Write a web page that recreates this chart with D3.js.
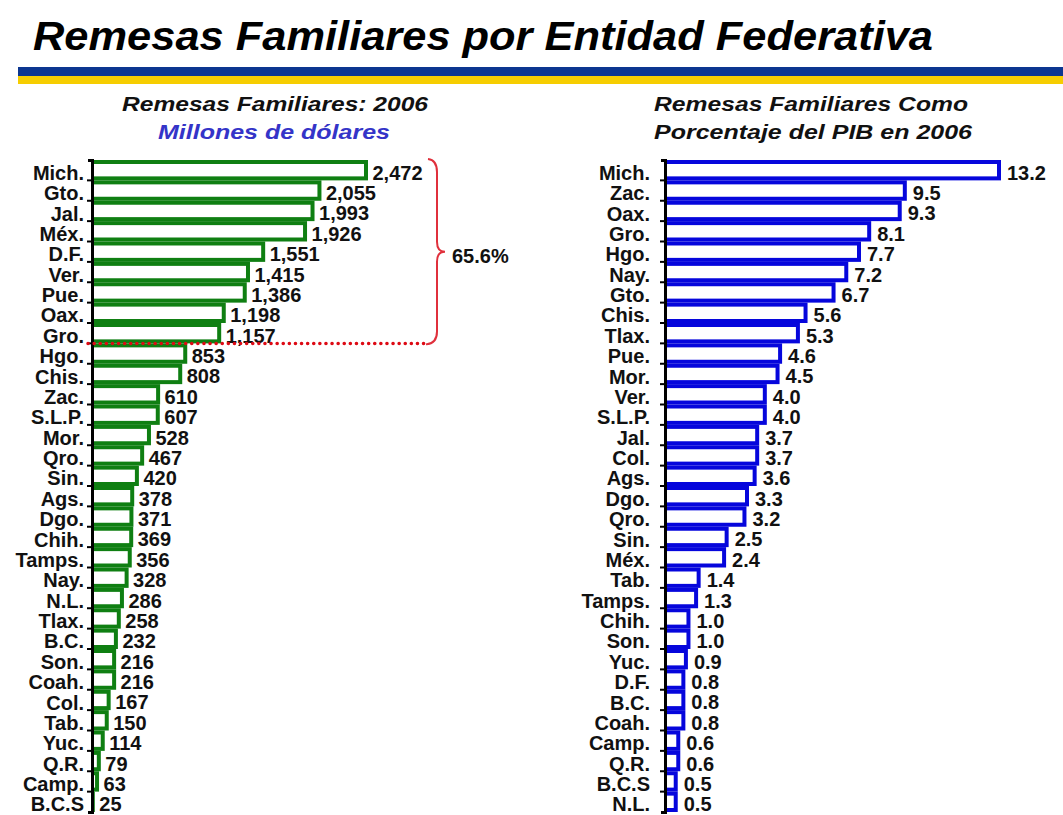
<!DOCTYPE html>
<html>
<head>
<meta charset="utf-8">
<script src="https://cdn.jsdelivr.net/npm/d3@7"></script>
<style>
  body { margin: 0; background: #fff; }
  text { font-family: "Liberation Sans", Arial, sans-serif; }
</style>
</head>
<body>
<div id="chart"></div>
<script>
const title = 'Remesas Familiares por Entidad Federativa'

const leftStates = ['Mich.', 'Gto.', 'Jal.', 'Méx.', 'D.F.', 'Ver.', 'Pue.', 'Oax.', 'Gro.', 'Hgo.', 'Chis.', 'Zac.', 'S.L.P.', 'Mor.', 'Qro.', 'Sin.', 'Ags.', 'Dgo.', 'Chih.', 'Tamps.', 'Nay.', 'N.L.', 'Tlax.', 'B.C.', 'Son.', 'Coah.', 'Col.', 'Tab.', 'Yuc.', 'Q.R.', 'Camp.', 'B.C.S']
const leftValues = [2472, 2055, 1993, 1926, 1551, 1415, 1386, 1198, 1157, 853, 808, 610, 607, 528, 467, 420, 378, 371, 369, 356, 328, 286, 258, 232, 216, 216, 167, 150, 114, 79, 63, 25]

const rightStates = ['Mich.', 'Zac.', 'Oax.', 'Gro.', 'Hgo.', 'Nay.', 'Gto.', 'Chis.', 'Tlax.', 'Pue.', 'Mor.', 'Ver.', 'S.L.P.', 'Jal.', 'Col.', 'Ags.', 'Dgo.', 'Qro.', 'Sin.', 'Méx.', 'Tab.', 'Tamps.', 'Chih.', 'Son.', 'Yuc.', 'D.F.', 'B.C.', 'Coah.', 'Camp.', 'Q.R.', 'B.C.S', 'N.L.']
const rightValues = [13.2, 9.5, 9.3, 8.1, 7.7, 7.2, 6.7, 5.6, 5.3, 4.6, 4.5, 4.0, 4.0, 3.7, 3.7, 3.6, 3.3, 3.2, 2.5, 2.4, 1.4, 1.3, 1.0, 1.0, 0.9, 0.8, 0.8, 0.8, 0.6, 0.6, 0.5, 0.5]

// top 9 states share of total remittances
const bracketStates = 9
const bracketLabel = '65.6%'

const dimensions = {
    width: 1063,
    height: 815,
}

const svg = d3.select('#chart')
    .append('svg')
    .attr('width', dimensions.width)
    .attr('height', dimensions.height)

// title + stripes
svg.append('text')
    .attr('x', 33)
    .attr('y', 50)
    .attr('font-size', 41)
    .attr('font-weight', 'bold')
    .attr('font-style', 'italic')
    .attr('textLength', 900)
    .attr('lengthAdjust', 'spacingAndGlyphs')
    .attr('fill', '#000')
    .text(title)

svg.append('rect')
    .attr('x', 18).attr('y', 67).attr('width', dimensions.width - 18).attr('height', 9)
    .attr('fill', '#0c3690')
svg.append('rect')
    .attr('x', 18).attr('y', 76).attr('width', dimensions.width - 18).attr('height', 8)
    .attr('fill', '#f6cd00')

// subtitles
const subtitle = (x, y, txt, len, color) => svg.append('text')
    .attr('x', x)
    .attr('y', y)
    .attr('font-size', 20)
    .attr('font-weight', 'bold')
    .attr('font-style', 'italic')
    .attr('textLength', len)
    .attr('lengthAdjust', 'spacingAndGlyphs')
    .attr('fill', color)
    .text(txt)

subtitle(122, 111, 'Remesas Familiares: 2006', 306, '#111')
subtitle(158, 139, 'Millones de dólares', 232, '#3434c8')
subtitle(654, 111, 'Remesas Familiares Como', 314, '#111')
subtitle(654, 139, 'Porcentaje del PIB en 2006', 318, '#111')

function drawPanel(opts) {
    const { states, values, x0, barMax, color, fmt, labelGap, valueGap } = opts
    const data = states.map((s, i) => ({ state: s, value: values[i] }))

    const yScale = d3.scaleBand()
        .domain(states)
        .range([160, 812])
        .padding(0)

    const xScale = d3.scaleLinear()
        .domain([0, d3.max(values)])
        .range([0, barMax])

    const g = svg.append('g')
    const bw = yScale.bandwidth()

    // bars: coloured block with white centre
    g.selectAll('rect.outer')
        .data(data)
        .join('rect')
        .attr('class', 'outer')
        .attr('x', x0)
        .attr('y', d => yScale(d.state))
        .attr('width', d => xScale(d.value))
        .attr('height', bw)
        .attr('fill', color)

    g.selectAll('rect.inner')
        .data(data.filter(d => xScale(d.value) > 7))
        .join('rect')
        .attr('class', 'inner')
        .attr('x', x0 + 2)
        .attr('y', d => yScale(d.state) + 4)
        .attr('width', d => xScale(d.value) - 6)
        .attr('height', bw - 8)
        .attr('fill', '#fff')

    // value labels
    g.selectAll('text.val')
        .data(data)
        .join('text')
        .attr('class', 'val')
        .attr('x', d => x0 + xScale(d.value) + valueGap)
        .attr('y', d => yScale(d.state) + bw / 2 + 9.5)
        .attr('font-size', 20)
        .attr('font-weight', 'bold')
        .attr('fill', '#111')
        .text(d => fmt(d.value))

    // category axis
    const yAxis = d3.axisLeft(yScale)
        .tickSize(0)
        .tickSizeOuter(4)
        .tickPadding(labelGap)

    const axisGroup = g.append('g')
        .attr('transform', `translate(${x0}, 0)`)
        .call(yAxis)

    axisGroup.select('.domain')
        .attr('stroke', '#000')
        .attr('stroke-width', 3)
    axisGroup.selectAll('.tick text')
        .attr('font-size', 20)
        .attr('font-weight', 'bold')
        .attr('font-family', '"Liberation Sans", Arial, sans-serif')
        .attr('fill', '#111')
        .attr('dy', '0.48em')

    // little tick marks at band boundaries
    axisGroup.selectAll('line.bound')
        .data(states.slice(1))
        .join('line')
        .attr('class', 'bound')
        .attr('x1', -5)
        .attr('x2', 0)
        .attr('y1', d => yScale(d))
        .attr('y2', d => yScale(d))
        .attr('stroke', '#000')
        .attr('stroke-width', 2)

    return { yScale, xScale, g }
}

const left = drawPanel({
    states: leftStates,
    values: leftValues,
    x0: 92,
    barMax: 276,
    color: '#0f7f12',
    fmt: d3.format(','),
    labelGap: 8,
    valueGap: 4.5,
})

drawPanel({
    states: rightStates,
    values: rightValues,
    x0: 665,
    barMax: 336,
    color: '#0606dc',
    fmt: d3.format('.1f'),
    labelGap: 15,
    valueGap: 6,
})

// red annotation: dotted cut line + brace for the top states
const yTop = left.yScale(leftStates[0])
const yCut = left.yScale(leftStates[bracketStates - 1]) + left.yScale.bandwidth()
const yMid = (yTop + yCut) / 2

left.g.append('line')
    .attr('x1', 88)
    .attr('x2', 426)
    .attr('y1', yCut)
    .attr('y2', yCut)
    .attr('stroke', '#dd0a14')
    .attr('stroke-width', 3.5)
    .attr('stroke-linecap', 'round')
    .attr('stroke-dasharray', '0.1 6')

const bx = 437
left.g.append('path')
    .attr('d', `M${bx - 9},${yTop - 1} Q${bx},${yTop} ${bx},${yTop + 12}
        L${bx},${yMid - 10} Q${bx},${yMid} ${bx + 8},${yMid}
        Q${bx},${yMid} ${bx},${yMid + 10}
        L${bx},${yCut - 12} Q${bx},${yCut} ${bx - 11},${yCut + 1}`)
    .attr('fill', 'none')
    .attr('stroke', '#e0303c')
    .attr('stroke-width', 2)

left.g.append('text')
    .attr('x', 452)
    .attr('y', yMid + 11)
    .attr('font-size', 20)
    .attr('font-weight', 'bold')
    .attr('fill', '#111')
    .text(bracketLabel)
</script>
</body>
</html>
